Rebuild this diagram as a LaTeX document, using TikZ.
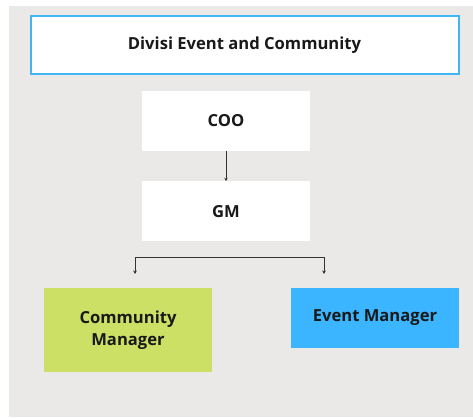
\documentclass[tikz,border=0pt]{standalone}
\usepackage{fontspec}
\setmainfont{Open Sans}
\usetikzlibrary{positioning,calc,arrows.meta}

\definecolor{bggray}{HTML}{EBE9E7}
\definecolor{titleblue}{HTML}{3FB7F7}
\definecolor{limegreen}{HTML}{CCE066}
\definecolor{skyblue}{HTML}{3BB5FF}
\definecolor{linegray}{HTML}{333333}

\begin{document}
\begin{tikzpicture}[
    x=1pt, y=-1pt,
    every node/.style={inner sep=0, font=\bfseries\fontsize{16.6}{22.5}\selectfont, text=black!90},
    orgbox/.style={rectangle, minimum width=168pt, minimum height=60pt, align=center},
    link/.style={draw=linegray, line width=0.9pt, -{Stealth[length=3.5pt,width=3.5pt]}}
]
\useasboundingbox (0,0) rectangle (473,417) ;
\fill[bggray] (9,6) rectangle (473,417) ;

\node[orgbox, fill=white, draw=titleblue, line width=2pt,
      minimum width=428pt, minimum height=58pt] (title) at (244.5,45.5) {Divisi Event and Community} ;
\node[orgbox, fill=white] (coo) at (226,121) {COO} ;
\node[orgbox, fill=white, below=30pt of coo] (gm) {GM} ;
\node[orgbox, fill=limegreen, minimum height=84pt] (comm) at (128,330) {Community\\Manager} ;
\node[orgbox, fill=skyblue] (event) at (375,318) {Event Manager} ;

\coordinate (bl) at (135,257) ;
\coordinate (br) at (324,257) ;
\coordinate (cl) at (135,274) ;
\coordinate (er) at (324,274) ;

\draw[link] (coo) -- (gm) ;
\draw[link, {Stealth[length=3.5pt,width=3.5pt]}-{Stealth[length=3.5pt,width=3.5pt]}]
    (cl) -- (bl) -- (br) -- (er) ;
\end{tikzpicture}
\end{document}
